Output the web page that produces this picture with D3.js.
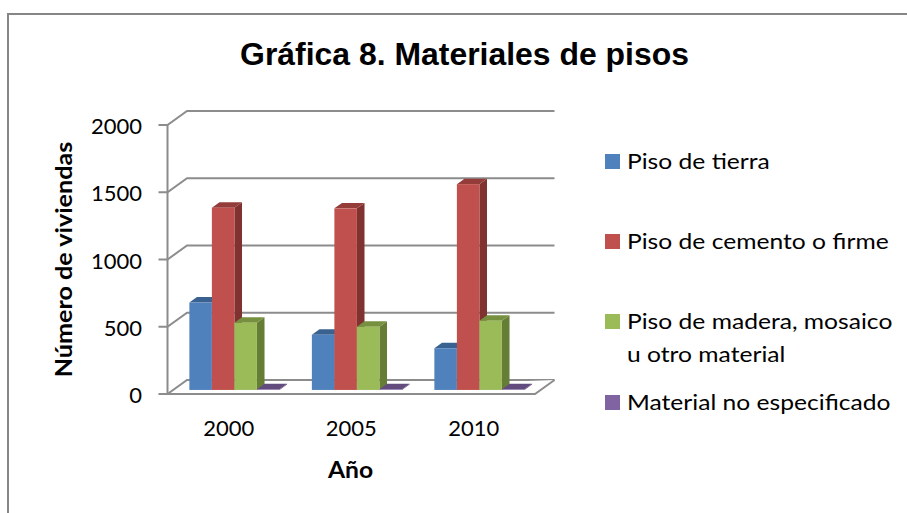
<!DOCTYPE html>
<html>
<head>
<meta charset="utf-8">
<script src="https://cdn.jsdelivr.net/npm/d3@7"></script>
<style>
html, body { margin: 0; padding: 0; background: #fff; }
text { fill: #000; }
</style>
</head>
<body>
<div id="chart"></div>
<script>
const years = ["2000", "2005", "2010"];
const seriesNames = ["Piso de tierra", "Piso de cemento o firme", "Piso de madera, mosaico", "Material no especificado"];
const tierra = [650, 410, 310];
const cemento = [1355, 1350, 1530];
const madera = [500, 470, 515];
const noEspecificado = [5, 5, 5];
const yTicks = [0, 500, 1000, 1500, 2000];

const allSeries = [tierra, cemento, madera, noEspecificado];
const colors = ["#4f81bd", "#c0504d", "#9bbb59", "#8064a2"];
const topColors = ["#3a6290", "#933c3a", "#76903f", "#624b7d"];
const sideColors = ["#345a86", "#7f3230", "#667d36", "#5a4374"];

const width = 907, height = 513;
const svg = d3.select("#chart").append("svg")
    .attr("width", width)
    .attr("height", height)
    .style("display", "block");

// outer frame, the right and bottom edges are cut off in the picture
svg.append("path")
    .attr("d", "M8,513V14H907")
    .attr("fill", "none")
    .attr("stroke", "#868686")
    .attr("stroke-width", 2);

// front plane of the box
const x = d3.scaleBand().domain(years).range([167.5, 535]);
const y = d3.scaleLinear().domain([0, 2000]).range([394, 125]);
const bars = d3.scaleBand().domain(d3.range(4)).range([0, x.bandwidth()]).paddingOuter(0.72).paddingInner(0);

// fake 3d depth
const depthX = 19.5, depthY = -14;
const barFront = 0.29, barBack = 0.68;

const gray = "#8c8c8c";
const grid = svg.append("g");
yTicks.forEach(t => {
    grid.append("path")
        .attr("d", `M${x.range()[0] - 9},${y(t)}H${x.range()[0]}l${depthX},${depthY}H${x.range()[1] + depthX}`)
        .attr("fill", "none")
        .attr("stroke", gray)
        .attr("stroke-width", 2);
});

// left wall edge and floor
grid.append("line")
    .attr("x1", x.range()[0]).attr("x2", x.range()[0])
    .attr("y1", y(0)).attr("y2", y(2000))
    .attr("stroke", gray).attr("stroke-width", 2);
grid.append("path")
    .attr("d", `M${x.range()[0]},${y(0)}H${x.range()[1]}l${depthX},${depthY}`)
    .attr("fill", "#fff")
    .attr("stroke", gray)
    .attr("stroke-width", 2);

// bars, drawn back to front per group
const barsG = svg.append("g");
years.forEach((yr, i) => {
    allSeries.forEach((vals, s) => {
        const v = vals[i];
        const w = bars.bandwidth();
        const x0 = x(yr) + bars(s) + depthX * barFront;
        const x1 = x0 + w;
        const yb = y(0) + depthY * barFront;
        const yt = y(v) + depthY * barFront;
        const dx = depthX * (barBack - barFront);
        const dy = depthY * (barBack - barFront);
        barsG.append("path")
            .attr("d", `M${x1},${yb}V${yt}l${dx},${dy}V${yb + dy}Z`)
            .attr("fill", sideColors[s]);
        barsG.append("path")
            .attr("d", `M${x0},${yt}H${x1}l${dx},${dy}H${x0 + dx}Z`)
            .attr("fill", topColors[s]);
        barsG.append("rect")
            .attr("x", x0).attr("y", yt)
            .attr("width", w).attr("height", yb - yt)
            .attr("fill", colors[s]);
    });
});

const labelFont = "Lato, Carlito, sans-serif";

// Lato runs narrower than the original font, so stretch the text along its length
function stretchedText(parent, str, px, py, size, sx, rotate) {
    return parent.append("text")
        .attr("transform", `translate(${px},${py}) rotate(${rotate || 0}) scale(${sx},1)`)
        .attr("font-family", labelFont)
        .attr("font-size", size)
        .text(str);
}

// y tick labels
svg.append("g").selectAll("text")
    .data(yTicks)
    .enter().append("text")
    .attr("x", 142)
    .attr("y", d => y(d) + 9)
    .attr("text-anchor", "end")
    .attr("font-family", labelFont)
    .attr("font-size", 22)
    .text(d => d);

// x tick labels
svg.append("g").selectAll("text")
    .data(years)
    .enter().append("text")
    .attr("x", d => x(d) + x.bandwidth() / 2)
    .attr("y", 436)
    .attr("text-anchor", "middle")
    .attr("font-family", labelFont)
    .attr("font-size", 22)
    .text(d => d);

stretchedText(svg, "Gráfica 8. Materiales de pisos", 464.5, 65, 31, 1.03)
    .attr("text-anchor", "middle")
    .attr("font-family", "Liberation Sans, Arial, sans-serif")
    .attr("font-weight", "bold");

stretchedText(svg, "Año", 350.5, 478, 23.5, 1.05)
    .attr("text-anchor", "middle")
    .attr("font-weight", "bold");

stretchedText(svg, "Número de viviendas", 72, 259.5, 23.5, 1.07, -90)
    .attr("text-anchor", "middle")
    .attr("font-weight", "bold");

// legend
const legendY = [154, 234, 314, 395];
const legend = svg.append("g");
seriesNames.forEach((name, i) => {
    legend.append("rect")
        .attr("x", 605).attr("y", legendY[i])
        .attr("width", 15).attr("height", 15)
        .attr("fill", colors[i]);
    stretchedText(legend, name, 627, legendY[i] + 15, 22, 1.12);
});
stretchedText(legend, "u otro material", 627, 362, 22, 1.12);
</script>
</body>
</html>
